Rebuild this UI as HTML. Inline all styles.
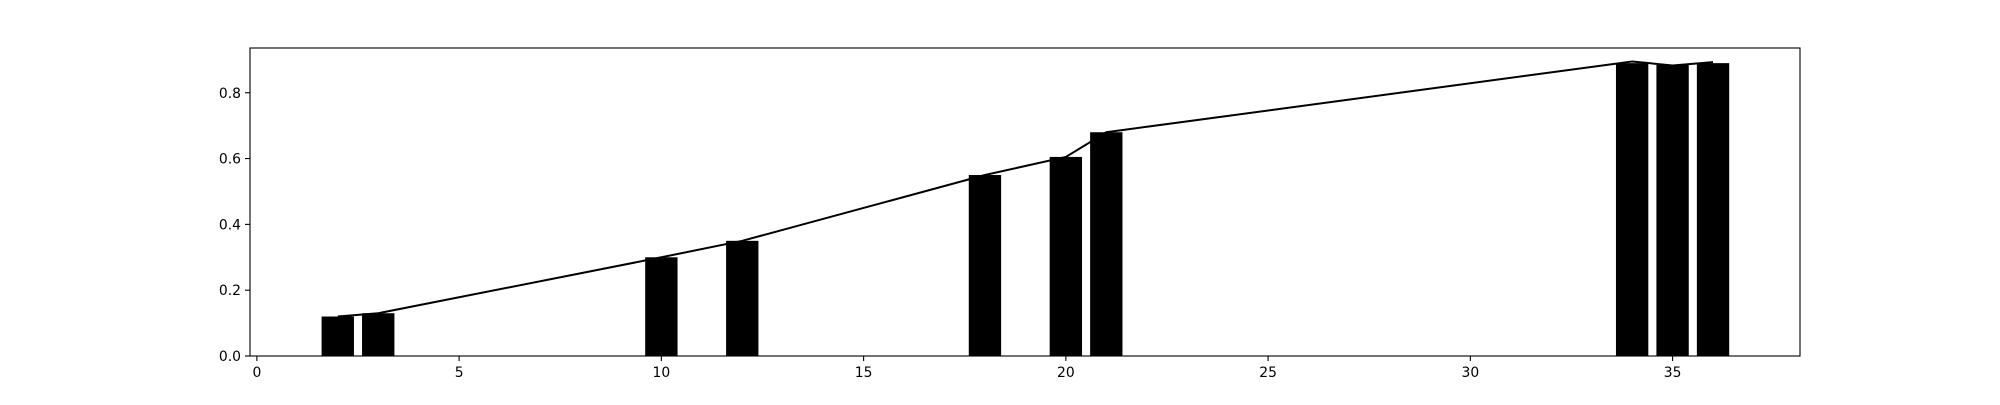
<!DOCTYPE html>
<html><head><meta charset="utf-8"><style>
html,body{margin:0;padding:0;background:#fff;}
svg text{font-family:"DejaVu Sans","Liberation Sans",sans-serif;font-size:13.9px;fill:#000;}
</style></head><body>
<svg id="chart" width="2000" height="400" xmlns="http://www.w3.org/2000/svg">
<rect width="2000" height="400" fill="#fff"/>
<g id="marks"></g>
<g id="axes"></g>
</svg>
<script>
const categories = [2, 3, 10, 12, 18, 20, 21, 34, 35, 36];
const barValues = [0.12, 0.13, 0.30, 0.35, 0.55, 0.605, 0.68, 0.89, 0.885, 0.89];
const lineValues = [0.12, 0.13, 0.30, 0.35, 0.55, 0.605, 0.68, 0.895, 0.883, 0.893];
const xTicks = [0, 5, 10, 15, 20, 25, 30, 35];
const yTicks = [0.0, 0.2, 0.4, 0.6, 0.8];
const barWidth = 0.8;

const L = 250, R = 1800, T = 48, B = 356;
const xmin = -0.17, xmax = 38.15, ymin = 0, ymax = 0.936;
const xs = v => L + (v - xmin) / (xmax - xmin) * (R - L);
const ys = v => B - (v - ymin) / (ymax - ymin) * (B - T);
const NS = "http://www.w3.org/2000/svg";
const marks = document.getElementById('marks');
const axes = document.getElementById('axes');
function mk(tag, attrs, parent) {
  const e = document.createElementNS(NS, tag);
  for (const k in attrs) e.setAttribute(k, attrs[k]);
  parent.appendChild(e);
  return e;
}
categories.forEach((c, i) => {
  const r = mk('rect', {x: xs(c - barWidth / 2), y: ys(barValues[i]), width: xs(c + barWidth / 2) - xs(c - barWidth / 2), height: ys(0) - ys(barValues[i]), fill: '#000'}, marks);
  
  
});
const pts = categories.map((c, i) => xs(c) + ',' + ys(lineValues[i])).join(' ');
const pl = mk('polyline', {points: pts, fill: 'none', stroke: '#000', 'stroke-width': 2}, marks);



const frame = mk('rect', {x: L, y: T, width: R - L, height: B - T, fill: 'none', stroke: '#000', 'stroke-width': 1.1}, axes);


xTicks.forEach(t => {
  const x = xs(t);
  const tk = mk('line', {x1: x, x2: x, y1: B, y2: B + 5, stroke: '#000', 'stroke-width': 1.1}, axes);
  
  
  const tx = mk('text', {x: x, y: B + 21, 'text-anchor': 'middle'}, axes);
  tx.textContent = t;
  
  
});
yTicks.forEach(t => {
  const y = ys(t);
  const tk = mk('line', {x1: L - 5, x2: L, y1: y, y2: y, stroke: '#000', 'stroke-width': 1.1}, axes);
  
  
  const tx = mk('text', {x: L - 9, y: y + 5, 'text-anchor': 'end'}, axes);
  tx.textContent = t.toFixed(1);
  
  
});
</script>
</body></html>
